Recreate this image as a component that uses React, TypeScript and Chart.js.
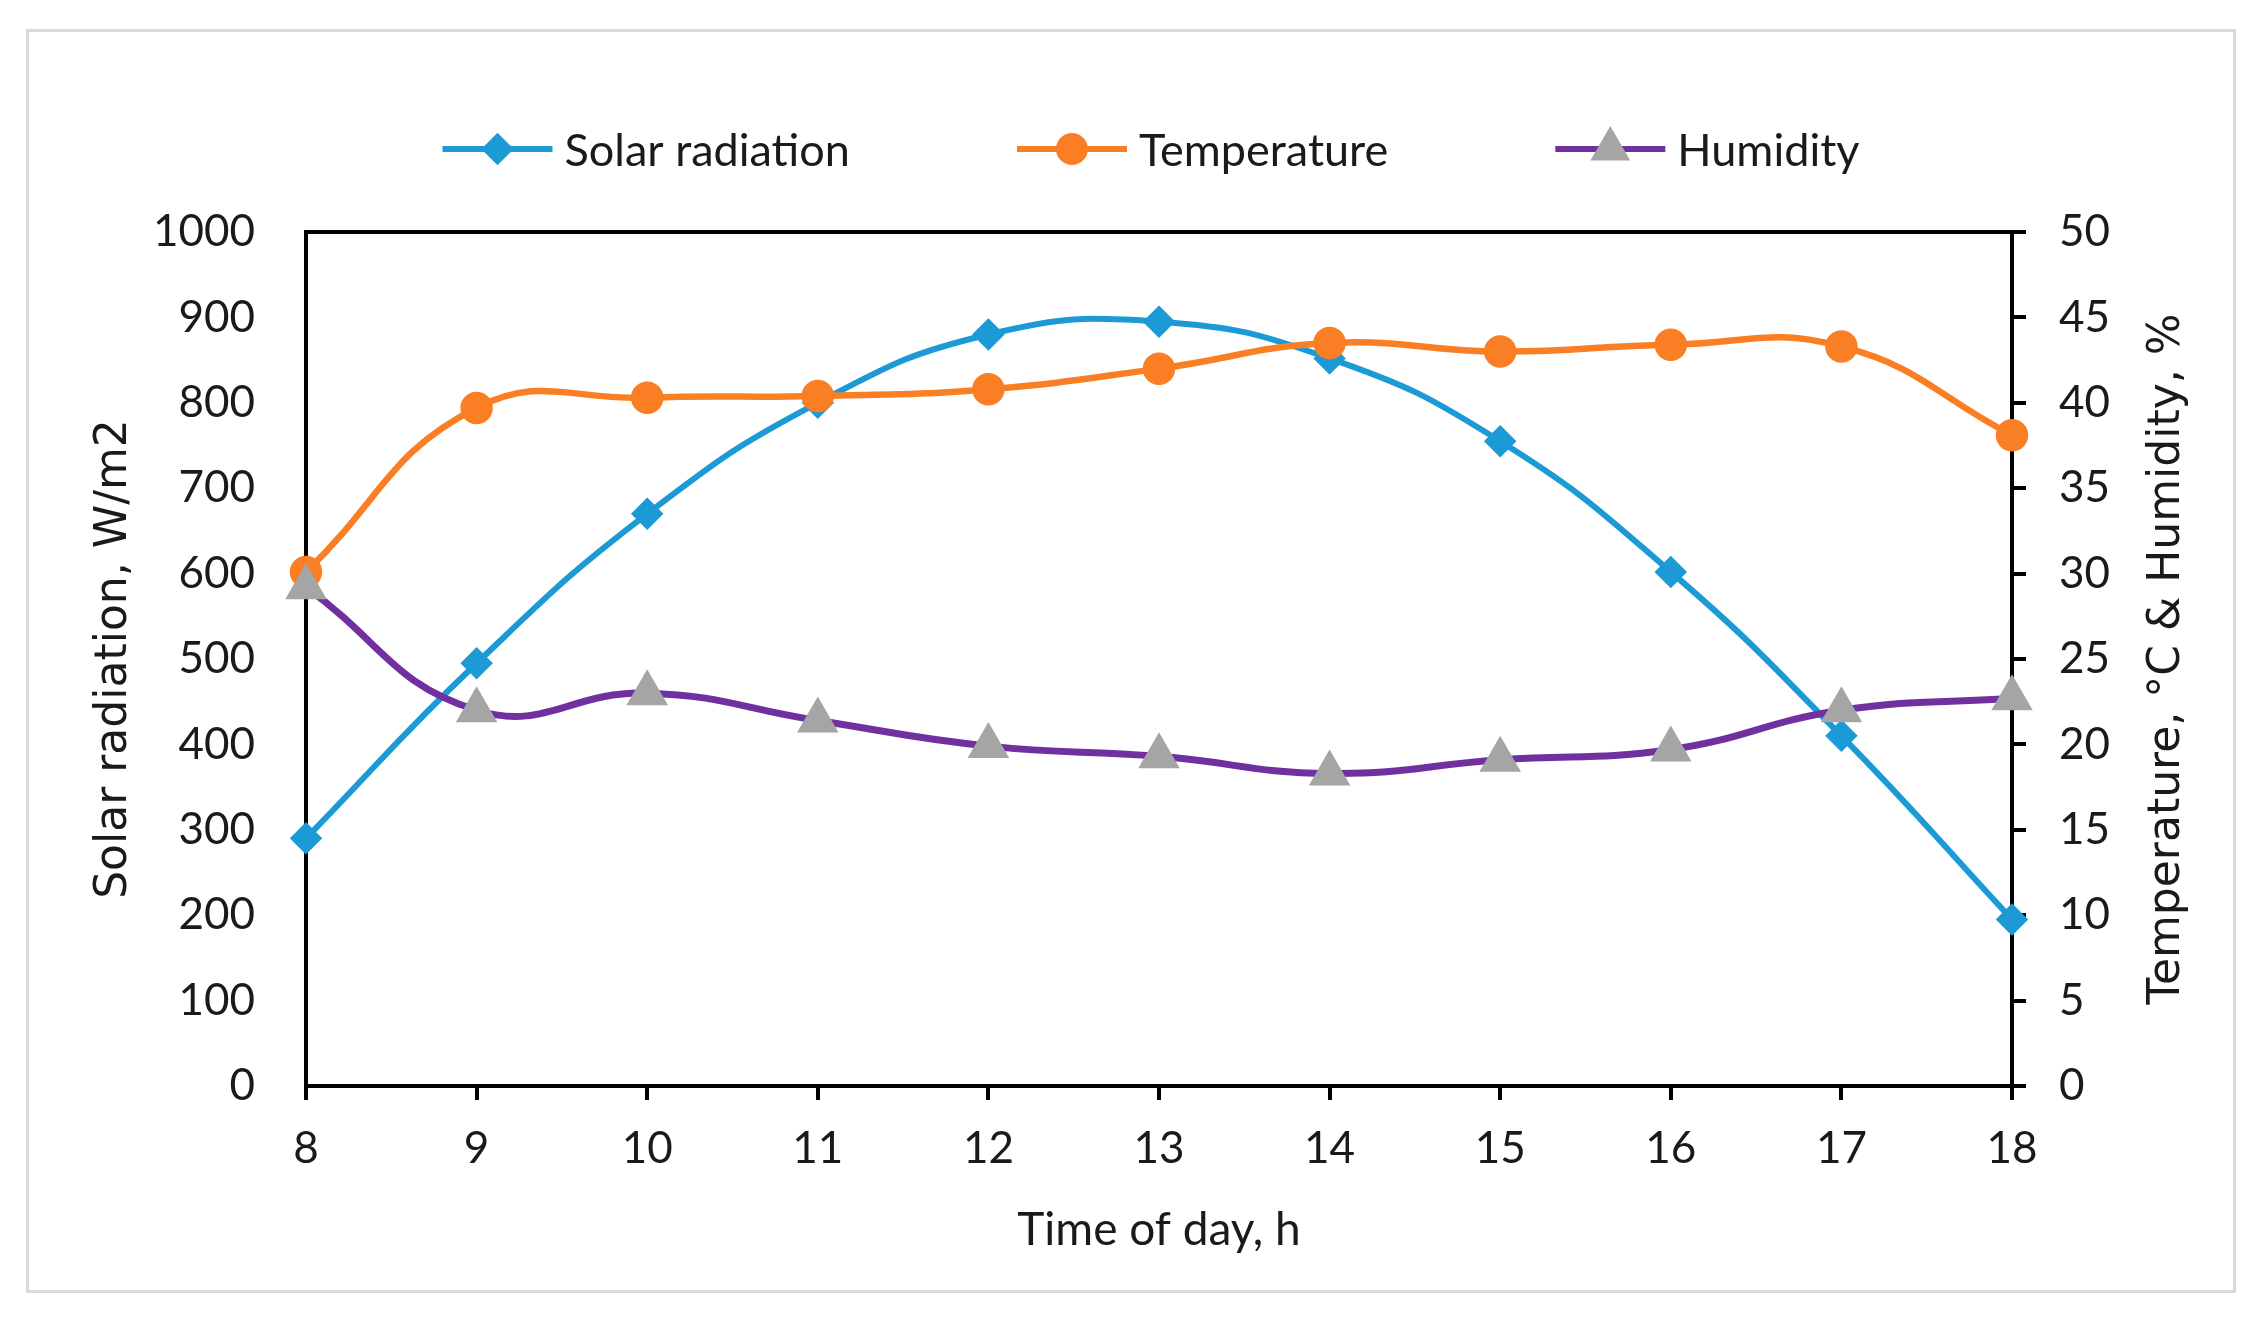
import { useEffect, useRef } from "react";
import { Chart, registerables, type ChartConfiguration, type Plugin } from "chart.js";
import { drawPoint } from "chart.js/helpers";

Chart.register(...registerables);

// values
const hours = [8, 9, 10, 11, 12, 13, 14, 15, 16, 17, 18];
const solarRadiation = [290, 495, 670, 800, 880, 895, 852, 755, 602, 410, 195];
const temperature = [30.1, 39.7, 40.3, 40.4, 40.8, 42.0, 43.5, 43.0, 43.4, 43.3, 38.1];
const humidity = [29.2, 22.0, 23.0, 21.4, 19.9, 19.3, 18.3, 19.1, 19.7, 22.0, 22.7];

const seriesNames = ["Solar radiation", "Temperature", "Humidity"];
const rightTitle = "Temperature, °C & Humidity, %";

const LATO = "Lato, 'Open Sans', sans-serif";
const DEJAVU = "'DejaVu Sans', Verdana, sans-serif";
const TICK_FONT = { family: LATO, size: 44 };
const TEXT = "#1a1a1a";

const BLUE = "#1c9ad6";
const ORANGE = "#fa7f24";
const PURPLE = "#7030a0";
const GREY = "#a5a5a5";

// top border of the plot frame, right axis title (reads bottom-up like Excel) and legend
const framePlugin: Plugin<"line"> = {
  id: "frameAndLegend",
  afterDraw(chart) {
    const { ctx, chartArea } = chart;
    ctx.save();
    ctx.strokeStyle = "#000";
    ctx.lineWidth = 4;
    ctx.beginPath();
    ctx.moveTo(chartArea.left - 2, chartArea.top);
    ctx.lineTo(chartArea.right + 2, chartArea.top);
    ctx.stroke();

    // right axis title
    ctx.save();
    ctx.translate(2139, (chartArea.top + chartArea.bottom) / 2);
    ctx.rotate(-Math.PI / 2);
    ctx.font = `44px ${DEJAVU}`;
    ctx.fillStyle = TEXT;
    ctx.textAlign = "center";
    ctx.textBaseline = "middle";
    ctx.fillText(rightTitle, 0, 0);
    ctx.restore();

    // legend
    ctx.font = `45px ${LATO}`;
    ctx.textBaseline = "middle";
    const lineLen = 110;
    const textGap = 12;
    const itemGap = 167;
    const y = 117;
    const widths = chart.data.datasets.map((ds) => lineLen + textGap + ctx.measureText(String(ds.label)).width);
    const total = widths.reduce((a, b) => a + b, 0) + itemGap * (widths.length - 1);
    let x = 1122 - total / 2;
    chart.data.datasets.forEach((ds: any, i) => {
      ctx.strokeStyle = ds.borderColor;
      ctx.lineWidth = 6;
      ctx.beginPath();
      ctx.moveTo(x, y);
      ctx.lineTo(x + lineLen, y);
      ctx.stroke();
      ctx.fillStyle = ds.pointBackgroundColor;
      ctx.strokeStyle = ds.pointBorderColor;
      drawPoint(ctx, { pointStyle: ds.pointStyle, radius: ds.pointRadius, rotation: 0, borderWidth: 1 }, x + lineLen / 2, y);
      ctx.fillStyle = TEXT;
      ctx.textAlign = "left";
      ctx.fillText(String(ds.label), x + lineLen + textGap, y + 2);
      x += widths[i] + itemGap;
    });
    ctx.restore();
  },
};

function toPoints(values: number[]) {
  return hours.map((h, i) => ({ x: h, y: values[i] }));
}

export default function App() {
  const canvasRef = useRef<HTMLCanvasElement>(null);

  useEffect(() => {
    const el = canvasRef.current;
    if (!el) return;
    const config: ChartConfiguration<"line"> = {
      type: "line",
      data: {
        datasets: [
          {
            label: seriesNames[0],
            data: toPoints(solarRadiation),
            yAxisID: "y",
            borderColor: BLUE,
            borderWidth: 6,
            pointStyle: "rectRot",
            pointRadius: 12,
            pointBackgroundColor: BLUE,
            pointBorderColor: BLUE,
            tension: 0.45,
            order: 3,
            clip: false,
          },
          {
            label: seriesNames[1],
            data: toPoints(temperature),
            yAxisID: "y1",
            borderColor: ORANGE,
            borderWidth: 6.5,
            pointStyle: "circle",
            pointRadius: 13,
            pointBackgroundColor: ORANGE,
            pointBorderColor: ORANGE,
            tension: 0.45,
            order: 2,
            clip: false,
          },
          {
            label: seriesNames[2],
            data: toPoints(humidity),
            yAxisID: "y1",
            borderColor: PURPLE,
            borderWidth: 7,
            pointStyle: "triangle",
            pointRadius: 17,
            pointBackgroundColor: GREY,
            pointBorderColor: GREY,
            tension: 0.45,
            order: 1,
            clip: false,
          },
        ],
      },
      options: {
        animation: false,
        responsive: true,
        maintainAspectRatio: false,
        layout: { padding: { top: 200, left: 0, right: 0, bottom: 0 } },
        plugins: {
          legend: { display: false },
          tooltip: { enabled: false },
        },
        scales: {
          x: {
            type: "linear",
            min: 8,
            max: 18,
            ticks: { stepSize: 1, font: TICK_FONT, color: TEXT, padding: 22 },
            grid: { display: true, drawOnChartArea: false, color: "#000", lineWidth: 4, tickLength: 14 },
            border: { color: "#000", width: 4 },
            title: {
              display: true,
              text: "Time of day, h",
              font: { family: LATO, size: 46 },
              color: TEXT,
              padding: { top: 0, bottom: 32 },
            },
            afterFit: (scale) => {
              scale.height = 204;
            },
          },
          y: {
            position: "left",
            min: 0,
            max: 1000,
            ticks: { stepSize: 100, font: TICK_FONT, color: TEXT, padding: 43, callback: (v) => String(v) },
            grid: { display: false },
            border: { color: "#000", width: 4 },
            title: {
              display: true,
              text: "Solar radiation, W/m2",
              font: { family: DEJAVU, size: 44 },
              color: TEXT,
              padding: { top: 59, bottom: 0 },
            },
            afterFit: (scale) => {
              scale.width = 277;
            },
          },
          y1: {
            position: "right",
            min: 0,
            max: 50,
            ticks: { stepSize: 5, font: TICK_FONT, color: TEXT, padding: 33, callback: (v) => String(v) },
            grid: { display: true, drawOnChartArea: false, color: "#000", lineWidth: 4, tickLength: 14 },
            border: { color: "#000", width: 4 },
            title: { display: false, text: rightTitle },
            afterFit: (scale) => {
              scale.width = 221;
            },
          },
        },
      },
      plugins: [framePlugin],
    };
    const chart = new Chart(el, config);
    return () => chart.destroy();
  }, []);

  return (
    <div
      style={{
        position: "absolute",
        left: 26,
        top: 29,
        width: 2210,
        height: 1264,
        border: "3px solid #d9d9d9",
        boxSizing: "border-box",
        background: "#fff",
      }}
    >
      <div style={{ position: "relative", width: 2204, height: 1258 }}>
        <canvas ref={canvasRef} role="img" aria-label="Solar radiation, temperature and humidity by time of day" />
      </div>
    </div>
  );
}
